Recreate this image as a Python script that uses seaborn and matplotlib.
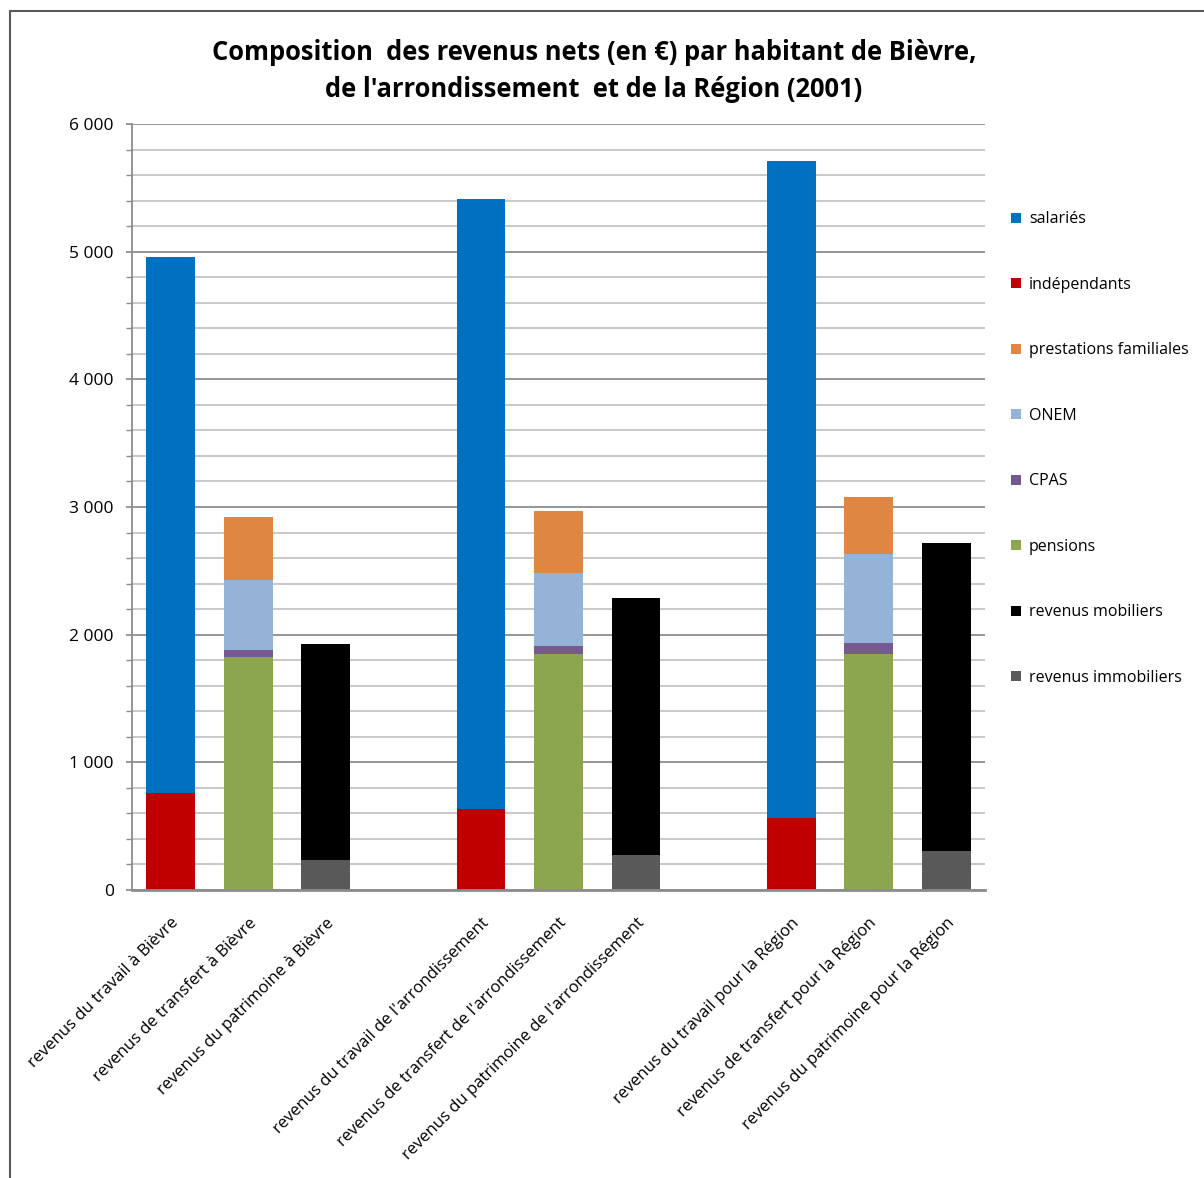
import matplotlib
matplotlib.use("Agg")
import matplotlib.pyplot as plt
import matplotlib.ticker as mticker
from matplotlib.lines import Line2D
from matplotlib.patches import Patch
import seaborn as sns
import pandas as pd
import numpy as np

categories = [
    "revenus du travail à Bièvre",
    "revenus de transfert à Bièvre",
    "revenus du patrimoine à Bièvre",
    "revenus du travail de l'arrondissement",
    "revenus de transfert de l'arrondissement",
    "revenus du patrimoine de l'arrondissement",
    "revenus du travail pour la Région",
    "revenus de transfert pour la Région",
    "revenus du patrimoine pour la Région",
]
# slot order (two empty slots separate the three groups)
order = categories[0:3] + [" "] + categories[3:6] + ["  "] + categories[6:9]

series_names = ["salariés", "indépendants", "prestations familiales", "ONEM",
                "CPAS", "pensions", "revenus mobiliers", "revenus immobiliers"]

salaries      = [4200, 0, 0, 4777, 0, 0, 5145, 0, 0]
independants  = [760, 0, 0, 634, 0, 0, 564, 0, 0]
prestations   = [0, 493, 0, 0, 486, 0, 0, 447, 0]
onem          = [0, 548, 0, 0, 571, 0, 0, 697, 0]
cpas          = [0, 55, 0, 0, 63, 0, 0, 86, 0]
pensions      = [0, 1825, 0, 0, 1848, 0, 0, 1848, 0]
mobiliers     = [0, 0, 1691, 0, 0, 2013, 0, 0, 2412]
immobiliers   = [0, 0, 235, 0, 0, 274, 0, 0, 305]

colors = {
    "salariés": "#0070C0",
    "indépendants": "#C00000",
    "prestations familiales": "#DE8642",
    "ONEM": "#95B3D7",
    "CPAS": "#76598F",
    "pensions": "#8BA64F",
    "revenus mobiliers": "#000000",
    "revenus immobiliers": "#595959",
}

df = pd.DataFrame({
    "cat": categories,
    "salariés": salaries,
    "indépendants": independants,
    "prestations familiales": prestations,
    "ONEM": onem,
    "CPAS": cpas,
    "pensions": pensions,
    "revenus mobiliers": mobiliers,
    "revenus immobiliers": immobiliers,
})

# stacking order from bottom to top
stack_order = ["indépendants", "salariés", "pensions", "CPAS", "ONEM",
               "prestations familiales", "revenus immobiliers", "revenus mobiliers"]

sns.set_theme(style="white")
FONT = ["Open Sans", "DejaVu Sans"]
plt.rcParams["font.family"] = FONT
plt.rcParams["text.color"] = "black"
plt.rcParams["xtick.labelcolor"] = "black"
plt.rcParams["ytick.labelcolor"] = "black"

fig = plt.figure(figsize=(12.04, 11.78), dpi=100)
ax = fig.add_axes([132 / 1204, 1 - 890 / 1178, (985 - 132) / 1204, (890 - 124) / 1178])

bottom = np.zeros(len(df))
for name in stack_order:
    vals = df[name].to_numpy(dtype=float)
    sns.barplot(data=df, x="cat", y=name, order=order, color=colors[name],
                width=0.63, bottom=bottom, linewidth=0, saturation=1,
                errorbar=None, ax=ax)
    bottom = bottom + vals

ax.set_ylim(0, 6000)
ax.set_xlim(-0.5, len(order) - 0.5)
ax.yaxis.set_major_locator(mticker.MultipleLocator(1000))
ax.yaxis.set_minor_locator(mticker.MultipleLocator(200))
ax.yaxis.set_major_formatter(mticker.FuncFormatter(lambda v, p: f"{int(v):,}".replace(",", " ")))
ax.set_axisbelow(True)
ax.grid(axis="y", which="major", color="#8C8C8C", linewidth=1.3)
ax.grid(axis="y", which="minor", color="#C4C4C4", linewidth=1.3)
ax.grid(axis="x", visible=False)
for s in ["top", "right"]:
    ax.spines[s].set_visible(False)
ax.spines["left"].set_color("#8C8C8C")
ax.spines["left"].set_linewidth(1.3)
ax.spines["bottom"].set_color("#8C8C8C")
ax.spines["bottom"].set_linewidth(2)
ax.tick_params(axis="y", which="both", left=True, length=4, color="#8C8C8C",
               labelsize=12.5, pad=9, labelcolor="black")
ax.tick_params(axis="x", bottom=False, labelsize=12, pad=12, labelcolor="black")
ax.set_xlabel("")
ax.set_ylabel("")
ax.set_xticks(range(len(order)))
ax.set_xticklabels(order, rotation=45, ha="right", rotation_mode="anchor")

# legend
legend_order = series_names
handles = [Patch(facecolor=colors[n], edgecolor="none") for n in legend_order]
leg = fig.legend(handles, legend_order, loc="upper left",
                 bbox_to_anchor=(1005 / 1204, 1 - 205 / 1178), frameon=False,
                 fontsize=11.5, handlelength=0.6, handleheight=0.6, handletextpad=0.5,
                 labelspacing=3.1, borderaxespad=0)
for t in leg.get_texts():
    t.set_color("black")

fig.text(594 / 1204, 1 - 71 / 1178,
         "Composition  des revenus nets (en €) par habitant de Bièvre,\nde l'arrondissement  et de la Région (2001)",
         ha="center", va="center", fontsize=18.4, fontweight="bold", linespacing=1.5,
         color="black")

# outer chart-area frame (left and top edges)
fig.add_artist(Line2D([10 / 1204, 10 / 1204], [0, 1 - 11 / 1178], transform=fig.transFigure,
                      color="#595959", linewidth=1.5))
fig.add_artist(Line2D([10 / 1204, 1], [1 - 11 / 1178, 1 - 11 / 1178], transform=fig.transFigure,
                      color="#595959", linewidth=1.5))

fig.savefig("out.png", dpi=100, facecolor="white")
